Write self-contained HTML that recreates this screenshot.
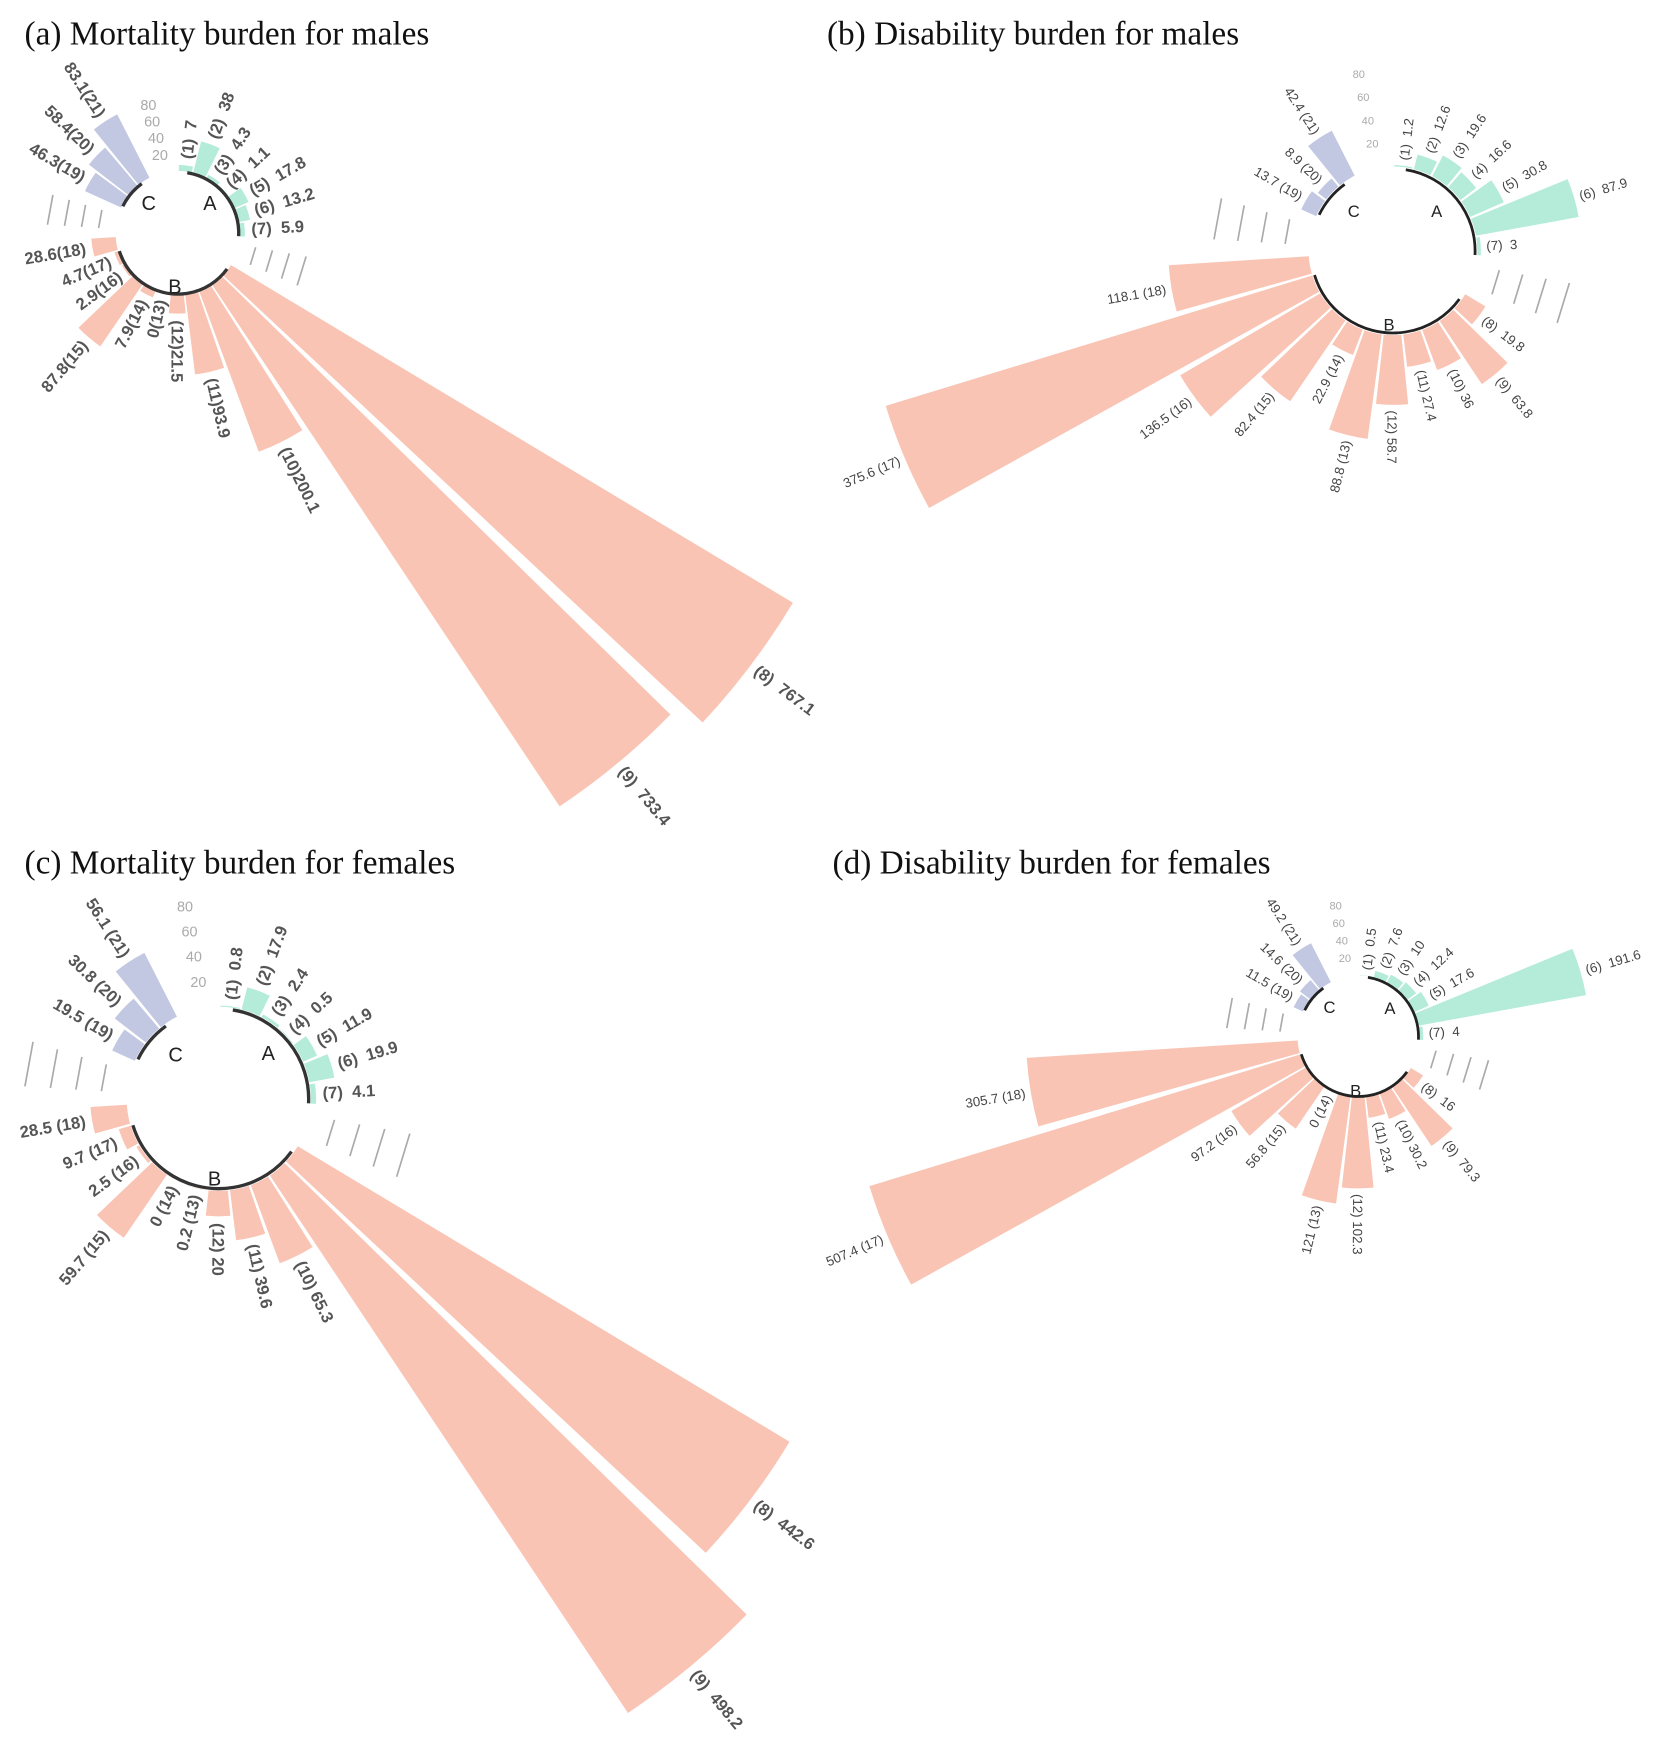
<!DOCTYPE html>
<html><head><meta charset="utf-8"><style>
html,body{margin:0;padding:0;background:#fff}
svg{display:block}
.t{font-family:"Liberation Serif",serif;font-size:30px;fill:#111}
.L text{font-family:"Liberation Sans",sans-serif;font-weight:bold;fill:#555;dominant-baseline:central;white-space:pre}
.S text{font-family:"Liberation Sans",sans-serif;font-size:12px;fill:#444;dominant-baseline:central;white-space:pre}
.e{text-anchor:end}
.sc{font-family:"Liberation Sans",sans-serif;fill:#aaa;text-anchor:middle;dominant-baseline:central}
.g{font-family:"Liberation Sans",sans-serif;fill:#222;text-anchor:middle;dominant-baseline:central}
.A{fill:#b4ecd9}.B{fill:#f9c4b4}.C{fill:#c2c7e2}
.gl line{stroke:#aaa;stroke-width:1.5}
</style></head><body>
<svg width="1665" height="1748" viewBox="0 0 1500 1575" xmlns="http://www.w3.org/2000/svg">
<defs>
<path id="s" d="M0 0L0.9945 -0.1045A1 1 0 0 1 0.9945 0.1045Z"/>
<g id="ga" class="gl"><line x1="71.4" y1="0" x2="69.5" y2="16.5"/><line x1="86.8" y1="0" x2="84.5" y2="20"/><line x1="102.2" y1="0" x2="99.4" y2="23.6"/><line x1="117.6" y1="0" x2="114.4" y2="27.1"/></g>
<g id="gb" class="gl"><line x1="97.4" y1="0" x2="94.8" y2="22.5"/><line x1="118.8" y1="0" x2="115.6" y2="27.4"/><line x1="140.2" y1="0" x2="136.4" y2="32.3"/><line x1="161.6" y1="0" x2="157.2" y2="37.3"/></g>
<g id="gc" class="gl"><line x1="106" y1="0" x2="103.1" y2="24.4"/><line x1="129" y1="0" x2="125.5" y2="29.7"/><line x1="152" y1="0" x2="147.9" y2="35.1"/><line x1="175" y1="0" x2="170.3" y2="40.4"/></g>
<g id="gd" class="gl"><line x1="71" y1="0" x2="69.1" y2="16.4"/><line x1="87" y1="0" x2="84.7" y2="20.1"/><line x1="103" y1="0" x2="100.2" y2="23.8"/><line x1="119" y1="0" x2="115.8" y2="27.4"/></g>
</defs>
<rect width="1500" height="1575" fill="#fff"/>
<text class="t" x="22" y="40">(a) Mortality burden for males</text>
<text class="t" x="745" y="40">(b) Disability burden for males</text>
<text class="t" x="22" y="787">(c) Mortality burden for females</text>
<text class="t" x="750" y="787">(d) Disability burden for females</text>

<!-- Panel A -->
<g transform="translate(160,210)">
<use href="#s" class="A" transform="rotate(277) scale(61.4)"/>
<use href="#s" class="A" transform="rotate(290.33) scale(85.3)"/>
<use href="#s" class="A" transform="rotate(303.67) scale(59.3)"/>
<use href="#s" class="A" transform="rotate(317) scale(56.8)"/>
<use href="#s" class="A" transform="rotate(330.33) scale(69.7)"/>
<use href="#s" class="A" transform="rotate(343.67) scale(66.2)"/>
<use href="#s" class="A" transform="rotate(357) scale(60.5)"/>
<use href="#s" class="B" transform="rotate(37) scale(646.7)"/>
<use href="#s" class="B" transform="rotate(50.33) scale(620.7)"/>
<use href="#s" class="B" transform="rotate(63.67) scale(210.1)"/>
<use href="#s" class="B" transform="rotate(77) scale(128.3)"/>
<use href="#s" class="B" transform="rotate(90.33) scale(72.6)"/>
<use href="#s" class="B" transform="rotate(103.67) scale(56)"/>
<use href="#s" class="B" transform="rotate(117) scale(62.1)"/>
<use href="#s" class="B" transform="rotate(130.33) scale(123.6)"/>
<use href="#s" class="B" transform="rotate(143.67) scale(58.2)"/>
<use href="#s" class="B" transform="rotate(157) scale(59.6)"/>
<use href="#s" class="B" transform="rotate(170.33) scale(78)"/>
<use href="#s" class="C" transform="rotate(210.33) scale(91.7)"/>
<use href="#s" class="C" transform="rotate(223.67) scale(101)"/>
<use href="#s" class="C" transform="rotate(237) scale(120)"/>
<circle r="56" fill="#fff"/>
<circle r="55" fill="none" stroke="#333" stroke-width="3" pathLength="360" stroke-dasharray="84 400" transform="rotate(279)"/>
<circle r="55" fill="none" stroke="#333" stroke-width="3" pathLength="360" stroke-dasharray="127 400" transform="rotate(36)"/>
<circle r="55" fill="none" stroke="#333" stroke-width="3" pathLength="360" stroke-dasharray="28 400" transform="rotate(206)"/>
<text class="g" font-size="18" transform="rotate(318) translate(39) rotate(-318)">A</text>
<text class="g" font-size="18" transform="rotate(93) translate(49) rotate(-93)">B</text>
<text class="g" font-size="18" transform="rotate(225) translate(37) rotate(-225)">C</text>
<use href="#ga" transform="rotate(10.33)"/>
<use href="#ga" transform="rotate(183.67)"/>
<g class="sc" font-size="13">
<text transform="rotate(257) translate(117.6) rotate(-257)">80</text>
<text transform="rotate(257) translate(102.2) rotate(-257)">60</text>
<text transform="rotate(257) translate(86.8) rotate(-257)">40</text>
<text transform="rotate(257) translate(71.4) rotate(-257)">20</text>
</g>
<g class="L" font-size="15">
<text transform="rotate(277) translate(67.4)">(1)  7</text>
<text transform="rotate(290.33) translate(91.3)">(2)  38</text>
<text transform="rotate(303.67) translate(65.3)">(3)  4.3</text>
<text transform="rotate(317) translate(62.8)">(4)  1.1</text>
<text transform="rotate(330.33) translate(75.7)">(5)  17.8</text>
<text transform="rotate(343.67) translate(72.2)">(6)  13.2</text>
<text transform="rotate(357) translate(66.5)">(7)  5.9</text>
<text transform="rotate(37) translate(652.7)">(8)  767.1</text>
<text transform="rotate(50.33) translate(626.7)">(9)  733.4</text>
<text transform="rotate(63.67) translate(216.1)">(10)200.1</text>
<text transform="rotate(77) translate(134.3)">(11)93.9</text>
<text transform="rotate(90.33) translate(78.6)">(12)21.5</text>
<text class="e" transform="rotate(103.67) translate(62) rotate(180)">0(13)</text>
<text class="e" transform="rotate(117) translate(68.1) rotate(180)">7.9(14)</text>
<text class="e" transform="rotate(130.33) translate(129.6) rotate(180)">87.8(15)</text>
<text class="e" transform="rotate(143.67) translate(64.2) rotate(180)">2.9(16)</text>
<text class="e" transform="rotate(157) translate(65.6) rotate(180)">4.7(17)</text>
<text class="e" transform="rotate(170.33) translate(84) rotate(180)">28.6(18)</text>
<text class="e" transform="rotate(210.33) translate(97.7) rotate(180)">46.3(19)</text>
<text class="e" transform="rotate(223.67) translate(107) rotate(180)">58.4(20)</text>
<text class="e" transform="rotate(237) translate(126) rotate(180)">83.1(21)</text>
</g>
</g>

<!-- Panel B -->
<g transform="translate(1255,226)">
<use href="#s" class="A" transform="rotate(277) scale(77.3)"/>
<use href="#s" class="A" transform="rotate(290.33) scale(89.5)"/>
<use href="#s" class="A" transform="rotate(303.67) scale(97)"/>
<use href="#s" class="A" transform="rotate(317) scale(93.8)"/>
<use href="#s" class="A" transform="rotate(330.33) scale(109)"/>
<use href="#s" class="A" transform="rotate(343.67) scale(170.1)"/>
<use href="#s" class="A" transform="rotate(357) scale(79.2)"/>
<use href="#s" class="B" transform="rotate(37) scale(97.2)"/>
<use href="#s" class="B" transform="rotate(50.33) scale(144.3)"/>
<use href="#s" class="B" transform="rotate(63.67) scale(114.5)"/>
<use href="#s" class="B" transform="rotate(77) scale(105.3)"/>
<use href="#s" class="B" transform="rotate(90.33) scale(138.8)"/>
<use href="#s" class="B" transform="rotate(103.67) scale(171)"/>
<use href="#s" class="B" transform="rotate(117) scale(100.5)"/>
<use href="#s" class="B" transform="rotate(130.33) scale(164.2)"/>
<use href="#s" class="B" transform="rotate(143.67) scale(222.1)"/>
<use href="#s" class="B" transform="rotate(157) scale(477.9)"/>
<use href="#s" class="B" transform="rotate(170.33) scale(202.4)"/>
<use href="#s" class="C" transform="rotate(210.33) scale(90.7)"/>
<use href="#s" class="C" transform="rotate(223.67) scale(85.5)"/>
<use href="#s" class="C" transform="rotate(237) scale(121.4)"/>
<circle r="76" fill="#fff"/>
<circle r="74" fill="none" stroke="#222" stroke-width="2.5" pathLength="360" stroke-dasharray="84 400" transform="rotate(279)"/>
<circle r="74" fill="none" stroke="#222" stroke-width="2.5" pathLength="360" stroke-dasharray="127 400" transform="rotate(36)"/>
<circle r="74" fill="none" stroke="#222" stroke-width="2.5" pathLength="360" stroke-dasharray="28 400" transform="rotate(206)"/>
<text class="g" font-size="15" transform="rotate(318) translate(53) rotate(-318)">A</text>
<text class="g" font-size="15" transform="rotate(93) translate(67) rotate(-93)">B</text>
<text class="g" font-size="15" transform="rotate(225) translate(50) rotate(-225)">C</text>
<use href="#gb" transform="rotate(10.33)"/>
<use href="#gb" transform="rotate(183.67)"/>
<g class="sc" font-size="10">
<text transform="rotate(259) translate(161.6) rotate(-259)">80</text>
<text transform="rotate(259) translate(140.2) rotate(-259)">60</text>
<text transform="rotate(259) translate(118.8) rotate(-259)">40</text>
<text transform="rotate(259) translate(97.4) rotate(-259)">20</text>
</g>
<g class="S">
<text transform="rotate(277) translate(82.3)">(1)  1.2</text>
<text transform="rotate(290.33) translate(94.5)">(2)  12.6</text>
<text transform="rotate(303.67) translate(102)">(3)  19.6</text>
<text transform="rotate(317) translate(98.8)">(4)  16.6</text>
<text transform="rotate(330.33) translate(114)">(5)  30.8</text>
<text transform="rotate(343.67) translate(175.1)">(6)  87.9</text>
<text transform="rotate(357) translate(84.2)">(7)  3</text>
<text transform="rotate(37) translate(102.2)">(8)  19.8</text>
<text transform="rotate(50.33) translate(149.3)">(9)  63.8</text>
<text transform="rotate(63.67) translate(119.5)">(10) 36</text>
<text transform="rotate(77) translate(110.3)">(11) 27.4</text>
<text transform="rotate(90.33) translate(143.8)">(12) 58.7</text>
<text class="e" transform="rotate(103.67) translate(176) rotate(180)">88.8 (13)</text>
<text class="e" transform="rotate(117) translate(105.5) rotate(180)">22.9 (14)</text>
<text class="e" transform="rotate(130.33) translate(169.2) rotate(180)">82.4 (15)</text>
<text class="e" transform="rotate(143.67) translate(227.1) rotate(180)">136.5 (16)</text>
<text class="e" transform="rotate(157) translate(482.9) rotate(180)">375.6 (17)</text>
<text class="e" transform="rotate(170.33) translate(207.4) rotate(180)">118.1 (18)</text>
<text class="e" transform="rotate(210.33) translate(95.7) rotate(180)">13.7 (19)</text>
<text class="e" transform="rotate(223.67) translate(90.5) rotate(180)">8.9 (20)</text>
<text class="e" transform="rotate(237) translate(126.4) rotate(180)">42.4 (21)</text>
</g>
</g>

<!-- Panel C -->
<g transform="translate(197,990)">
<use href="#s" class="A" transform="rotate(277) scale(83.9)"/>
<use href="#s" class="A" transform="rotate(290.33) scale(103.6)"/>
<use href="#s" class="A" transform="rotate(303.67) scale(85.8)"/>
<use href="#s" class="A" transform="rotate(317) scale(83.6)"/>
<use href="#s" class="A" transform="rotate(330.33) scale(96.7)"/>
<use href="#s" class="A" transform="rotate(343.67) scale(105.9)"/>
<use href="#s" class="A" transform="rotate(357) scale(87.7)"/>
<use href="#s" class="B" transform="rotate(37) scale(600)"/>
<use href="#s" class="B" transform="rotate(50.33) scale(665)"/>
<use href="#s" class="B" transform="rotate(63.67) scale(158.1)"/>
<use href="#s" class="B" transform="rotate(77) scale(128.5)"/>
<use href="#s" class="B" transform="rotate(90.33) scale(106)"/>
<use href="#s" class="B" transform="rotate(103.67) scale(83.2)"/>
<use href="#s" class="B" transform="rotate(117) scale(83)"/>
<use href="#s" class="B" transform="rotate(130.33) scale(151.7)"/>
<use href="#s" class="B" transform="rotate(143.67) scale(85.9)"/>
<use href="#s" class="B" transform="rotate(157) scale(94.2)"/>
<use href="#s" class="B" transform="rotate(170.33) scale(115.8)"/>
<use href="#s" class="C" transform="rotate(210.33) scale(105.4)"/>
<use href="#s" class="C" transform="rotate(223.67) scale(118.4)"/>
<use href="#s" class="C" transform="rotate(237) scale(147.5)"/>
<circle r="83" fill="#fff"/>
<circle r="81" fill="none" stroke="#333" stroke-width="3" pathLength="360" stroke-dasharray="84 400" transform="rotate(279)"/>
<circle r="81" fill="none" stroke="#333" stroke-width="3" pathLength="360" stroke-dasharray="127 400" transform="rotate(36)"/>
<circle r="81" fill="none" stroke="#333" stroke-width="3" pathLength="360" stroke-dasharray="28 400" transform="rotate(206)"/>
<text class="g" font-size="18" transform="rotate(318) translate(60) rotate(-318)">A</text>
<text class="g" font-size="18" transform="rotate(93) translate(73) rotate(-93)">B</text>
<text class="g" font-size="18" transform="rotate(225) translate(55) rotate(-225)">C</text>
<use href="#gc" transform="rotate(10.33)"/>
<use href="#gc" transform="rotate(183.67)"/>
<g class="sc" font-size="13">
<text transform="rotate(260) translate(175) rotate(-260)">80</text>
<text transform="rotate(260) translate(152) rotate(-260)">60</text>
<text transform="rotate(260) translate(129) rotate(-260)">40</text>
<text transform="rotate(260) translate(106) rotate(-260)">20</text>
</g>
<g class="L" font-size="15">
<text transform="rotate(277) translate(89.9)">(1)  0.8</text>
<text transform="rotate(290.33) translate(109.6)">(2)  17.9</text>
<text transform="rotate(303.67) translate(91.8)">(3)  2.4</text>
<text transform="rotate(317) translate(89.6)">(4)  0.5</text>
<text transform="rotate(330.33) translate(102.7)">(5)  11.9</text>
<text transform="rotate(343.67) translate(111.9)">(6)  19.9</text>
<text transform="rotate(357) translate(93.7)">(7)  4.1</text>
<text transform="rotate(37) translate(606)">(8)  442.6</text>
<text transform="rotate(50.33) translate(671)">(9)  498.2</text>
<text transform="rotate(63.67) translate(164.1)">(10) 65.3</text>
<text transform="rotate(77) translate(134.5)">(11) 39.6</text>
<text transform="rotate(90.33) translate(112)">(12) 20</text>
<text class="e" transform="rotate(103.67) translate(89.2) rotate(180)">0.2 (13)</text>
<text class="e" transform="rotate(117) translate(89) rotate(180)">0 (14)</text>
<text class="e" transform="rotate(130.33) translate(157.7) rotate(180)">59.7 (15)</text>
<text class="e" transform="rotate(143.67) translate(91.9) rotate(180)">2.5 (16)</text>
<text class="e" transform="rotate(157) translate(100.2) rotate(180)">9.7 (17)</text>
<text class="e" transform="rotate(170.33) translate(121.8) rotate(180)">28.5 (18)</text>
<text class="e" transform="rotate(210.33) translate(111.4) rotate(180)">19.5 (19)</text>
<text class="e" transform="rotate(223.67) translate(124.4) rotate(180)">30.8 (20)</text>
<text class="e" transform="rotate(237) translate(153.5) rotate(180)">56.1 (21)</text>
</g>
</g>

<!-- Panel D -->
<g transform="translate(1224,934)">
<use href="#s" class="A" transform="rotate(277) scale(55.4)"/>
<use href="#s" class="A" transform="rotate(290.33) scale(61.1)"/>
<use href="#s" class="A" transform="rotate(303.67) scale(63)"/>
<use href="#s" class="A" transform="rotate(317) scale(64.9)"/>
<use href="#s" class="A" transform="rotate(330.33) scale(69.1)"/>
<use href="#s" class="A" transform="rotate(343.67) scale(208.3)"/>
<use href="#s" class="A" transform="rotate(357) scale(58.2)"/>
<use href="#s" class="B" transform="rotate(37) scale(67.8)"/>
<use href="#s" class="B" transform="rotate(50.33) scale(118.4)"/>
<use href="#s" class="B" transform="rotate(63.67) scale(79.2)"/>
<use href="#s" class="B" transform="rotate(77) scale(73.7)"/>
<use href="#s" class="B" transform="rotate(90.33) scale(136.8)"/>
<use href="#s" class="B" transform="rotate(103.67) scale(151.8)"/>
<use href="#s" class="B" transform="rotate(117) scale(55)"/>
<use href="#s" class="B" transform="rotate(130.33) scale(100.4)"/>
<use href="#s" class="B" transform="rotate(143.67) scale(132.8)"/>
<use href="#s" class="B" transform="rotate(157) scale(460.9)"/>
<use href="#s" class="B" transform="rotate(170.33) scale(299.6)"/>
<use href="#s" class="C" transform="rotate(210.33) scale(64.2)"/>
<use href="#s" class="C" transform="rotate(223.67) scale(66.7)"/>
<use href="#s" class="C" transform="rotate(237) scale(94.4)"/>
<circle r="55" fill="#fff"/>
<circle r="54" fill="none" stroke="#222" stroke-width="2.5" pathLength="360" stroke-dasharray="84 400" transform="rotate(279)"/>
<circle r="54" fill="none" stroke="#222" stroke-width="2.5" pathLength="360" stroke-dasharray="127 400" transform="rotate(36)"/>
<circle r="54" fill="none" stroke="#222" stroke-width="2.5" pathLength="360" stroke-dasharray="28 400" transform="rotate(206)"/>
<text class="g" font-size="15" transform="rotate(318) translate(38) rotate(-318)">A</text>
<text class="g" font-size="15" transform="rotate(93) translate(49) rotate(-93)">B</text>
<text class="g" font-size="15" transform="rotate(225) translate(37) rotate(-225)">C</text>
<use href="#gd" transform="rotate(10.33)"/>
<use href="#gd" transform="rotate(183.67)"/>
<g class="sc" font-size="10">
<text transform="rotate(260) translate(119) rotate(-260)">80</text>
<text transform="rotate(260) translate(103) rotate(-260)">60</text>
<text transform="rotate(260) translate(87) rotate(-260)">40</text>
<text transform="rotate(260) translate(71) rotate(-260)">20</text>
</g>
<g class="S">
<text transform="rotate(277) translate(60.4)">(1)  0.5</text>
<text transform="rotate(290.33) translate(66.1)">(2)  7.6</text>
<text transform="rotate(303.67) translate(68)">(3)  10</text>
<text transform="rotate(317) translate(69.9)">(4)  12.4</text>
<text transform="rotate(330.33) translate(74.1)">(5)  17.6</text>
<text transform="rotate(343.67) translate(213.3)">(6)  191.6</text>
<text transform="rotate(357) translate(63.2)">(7)  4</text>
<text transform="rotate(37) translate(72.8)">(8)  16</text>
<text transform="rotate(50.33) translate(123.4)">(9)  79.3</text>
<text transform="rotate(63.67) translate(84.2)">(10) 30.2</text>
<text transform="rotate(77) translate(78.7)">(11) 23.4</text>
<text transform="rotate(90.33) translate(141.8)">(12) 102.3</text>
<text class="e" transform="rotate(103.67) translate(156.8) rotate(180)">121 (13)</text>
<text class="e" transform="rotate(117) translate(60) rotate(180)">0 (14)</text>
<text class="e" transform="rotate(130.33) translate(105.4) rotate(180)">56.8 (15)</text>
<text class="e" transform="rotate(143.67) translate(137.8) rotate(180)">97.2 (16)</text>
<text class="e" transform="rotate(157) translate(465.9) rotate(180)">507.4 (17)</text>
<text class="e" transform="rotate(170.33) translate(304.6) rotate(180)">305.7 (18)</text>
<text class="e" transform="rotate(210.33) translate(69.2) rotate(180)">11.5 (19)</text>
<text class="e" transform="rotate(223.67) translate(71.7) rotate(180)">14.6 (20)</text>
<text class="e" transform="rotate(237) translate(99.4) rotate(180)">49.2 (21)</text>
</g>
</g>
</svg>
</body></html>
